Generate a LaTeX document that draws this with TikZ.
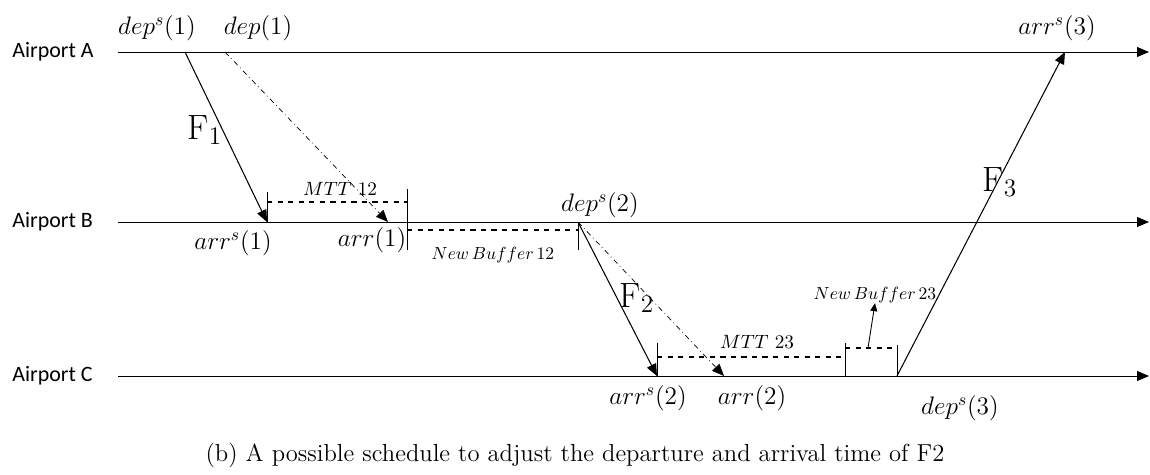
\documentclass[tikz,border=0pt]{standalone}
\usepackage{fontspec}
\newfontfamily\portfont{Carlito}
\usetikzlibrary{arrows.meta}

\begin{document}
\begin{tikzpicture}[x=0.02cm,y=-0.02cm,
	tip/.style={-{Triangle[length=2.4mm,width=2mm]}},
	axis/.style={line width=0.5pt,tip},
	flight/.style={line width=0.6pt,tip},
	actual/.style={line width=0.4pt,dash dot,tip},
	gap/.style={dashed,line width=1pt},
	tick/.style={line width=0.5pt},
	lbl/.style={font=\fontsize{14.5}{17}\selectfont,inner sep=0pt},
	small/.style={font=\fontsize{10.5}{12}\selectfont,inner sep=0pt},
	tiny/.style={font=\fontsize{9.8}{11}\selectfont,inner sep=0pt},
	port/.style={font=\portfont\fontsize{12.5}{14}\selectfont,inner sep=0pt,anchor=west},
	fl/.style={font=\fontsize{20}{24}\selectfont,inner sep=0pt}]
	\useasboundingbox (0,0) rectangle (1150,475);
	% time lines of the three airports
	\coordinate (A0) at (118,52);  \coordinate (A1) at (1149,52);
	\coordinate (B0) at (118,222); \coordinate (B1) at (1149,222);
	\coordinate (C0) at (118,376); \coordinate (C1) at (1149,376);
	\path node (pa) at (12,52) [port] {Airport A}
		  node (pb) at (12,222) [port] {Airport B}
		  node (pc) at (12,376) [port] {Airport C};
	\draw [axis] (A0) -- (A1);
	\draw [axis] (B0) -- (B1);
	\draw [axis] (C0) -- (C1);
	% event points
	\coordinate (depS1) at (185,52);
	\coordinate (dep1) at (225,52);
	\coordinate (arrS1) at (267,222);
	\coordinate (arr1) at (388,222);
	\coordinate (depS2) at (578,222);
	\coordinate (arrS2) at (657,376);
	\coordinate (arr2) at (724,376);
	\coordinate (depS3) at (897,376);
	\coordinate (arrS3) at (1065,52);
	\path node (ldepS1) at (157,28) [lbl] {$dep^s(1)$}
		  node (ldep1) at (258,28) [lbl] {$dep(1)$}
		  node (larrS1) at (233,243) [lbl] {$arr^s(1)$}
		  node (larr1) at (372,240) [lbl] {$arr(1)$}
		  node (ldepS2) at (600,205) [lbl] {$dep^s(2)$}
		  node (larrS2) at (648,398) [lbl] {$arr^s(2)$}
		  node (larr2) at (752,398) [lbl] {$arr(2)$}
		  node (ldepS3) at (960,408) [lbl] {$dep^s(3)$}
		  node (larrS3) at (1057,28) [lbl] {$arr^s(3)$};
	% flights
	\draw [flight] (depS1) -- (arrS1);
	\draw [flight] (depS2) -- (arrS2);
	\draw [flight] (depS3) -- (arrS3);
	\draw [actual] (dep1) -- (arr1);
	\draw [actual] (depS2) -- (arr2);
	\path node (f1) at (205,130) [fl] {F$_1$}
		  node (f2) at (637,298) [fl] {F$_2$}
		  node (f3) at (1000,182) [fl] {F$_3$};
	% transfer times and buffers
	\coordinate (m1a) at (267,192); \coordinate (m1b) at (407,189);
	\coordinate (m1c) at (407,250); \coordinate (b1a) at (578,250);
	\draw [tick] (m1a) -- (arrS1);
	\draw [tick] (m1b) -- (m1c);
	\draw [tick] (depS2) -- (b1a);
	\draw [gap] (267,202) -- (407,202);
	\draw [gap] (407,230) -- (578,230);
	\coordinate (m2a) at (657,343); \coordinate (m2b) at (845,343);
	\coordinate (m2c) at (845,376); \coordinate (b2a) at (897,345);
	\draw [tick] (m2a) -- (arrS2);
	\draw [tick] (m2b) -- (m2c);
	\draw [tick] (b2a) -- (depS3);
	\draw [gap] (657,357) -- (845,357);
	\draw [gap] (845,348) -- (897,348);
	\coordinate (b2p) at (868,348);
	\path node (mtt12) at (340,189) [small] {$MTT\ 12$}
		  node (nb12) at (493,255) [tiny] {$New\,Buffer\,12$}
		  node (mtt23) at (757,342) [small] {$MTT\ 23$}
		  node (nb23) at (875,295) [tiny] {$New\,Buffer\,23$};
	\draw [line width=0.5pt,-{Triangle[length=1.6mm,width=1.4mm]}] (b2p) -- (nb23.south);
	% caption
	\node (cap) at (575,455) [font=\fontsize{14}{17}\selectfont] {(b) A possible schedule to adjust the departure and arrival time of F2};
\end{tikzpicture}
\end{document}
